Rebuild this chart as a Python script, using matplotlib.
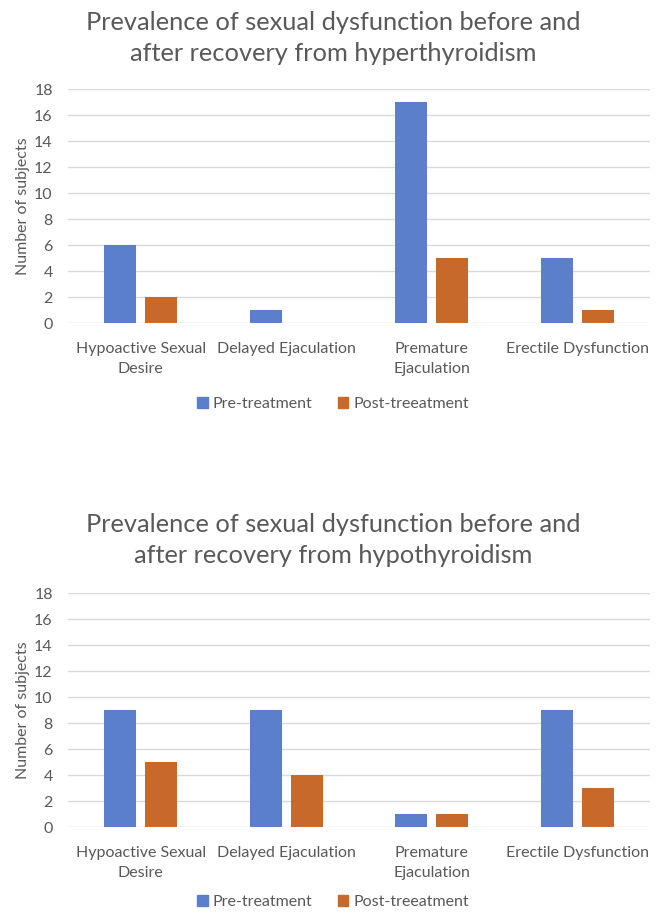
import matplotlib
matplotlib.use("Agg")
import matplotlib.pyplot as plt
import numpy as np
from matplotlib.patches import Patch

plt.rcParams['font.family'] = ['Lato', 'DejaVu Sans']

categories = ["Hypoactive Sexual\nDesire", "Delayed Ejaculation",
              "Premature\nEjaculation", "Erectile Dysfunction"]
series_names = ["Pre-treatment", "Post-treeatment"]

hyper_pre = [6, 1, 17, 5]
hyper_post = [2, 0, 5, 1]
hypo_pre = [9, 9, 1, 9]
hypo_post = [5, 4, 1, 3]

titles = ["Prevalence of sexual dysfunction before and\nafter recovery from hyperthyroidism",
          "Prevalence of sexual dysfunction before and\nafter recovery from hypothyroidism"]
y_ticks = [0, 2, 4, 6, 8, 10, 12, 14, 16, 18]

BLUE = "#5B7FCB"
ORANGE = "#C8692C"
TEXT = "#595959"
GRID = "#D9D9D9"

W, H = 666, 913
fig = plt.figure(figsize=(W / 100, H / 100), dpi=100)


def frac_box(left, top, right, bottom):
    return [left / W, 1 - bottom / H, (right - left) / W, (bottom - top) / H]


panels = [
    dict(box=frac_box(68, 89, 650, 323), pre=hyper_pre, post=hyper_post,
         title=titles[0], title_y=38, legend_y=404),
    dict(box=frac_box(68, 593, 650, 827), pre=hypo_pre, post=hypo_post,
         title=titles[1], title_y=540, legend_y=902),
]

x = np.arange(len(categories))
bw = 0.22
off = 0.141
fs = 11.5

for p in panels:
    ax = fig.add_axes(p["box"])
    ax.bar(x - off, p["pre"], width=bw, color=BLUE, zorder=3)
    ax.bar(x + off, p["post"], width=bw, color=ORANGE, zorder=3)
    ax.set_xlim(-0.5, len(categories) - 0.5)
    ax.set_ylim(0, 18)
    ax.set_yticks(y_ticks)
    ax.set_xticks(x)
    ax.set_xticklabels(categories, fontsize=fs, color=TEXT, linespacing=1.5)
    ax.tick_params(axis='y', labelsize=fs, labelcolor=TEXT, length=0, pad=11)
    ax.tick_params(axis='x', length=0, pad=14)
    for s in ax.spines.values():
        s.set_visible(False)
    ax.yaxis.grid(True, color=GRID, linewidth=1.0, zorder=0)
    ax.set_axisbelow(True)
    ax.set_ylabel("Number of subjects", fontsize=fs, color=TEXT, labelpad=3)
    fig.text(333 / W, 1 - p["title_y"] / H, p["title"], ha='center', va='center',
             fontsize=18.3, color=TEXT, linespacing=1.4)
    handles = [Patch(color=BLUE), Patch(color=ORANGE)]
    fig.legend(handles, series_names, loc='center',
               bbox_to_anchor=(333 / W, 1 - p["legend_y"] / H), ncol=2,
               frameon=False, fontsize=fs, labelcolor=TEXT,
               handlelength=0.65, handleheight=0.65, handletextpad=0.3,
               columnspacing=1.6, borderpad=0.2)

fig.savefig("out.png", dpi=100, facecolor="white")
